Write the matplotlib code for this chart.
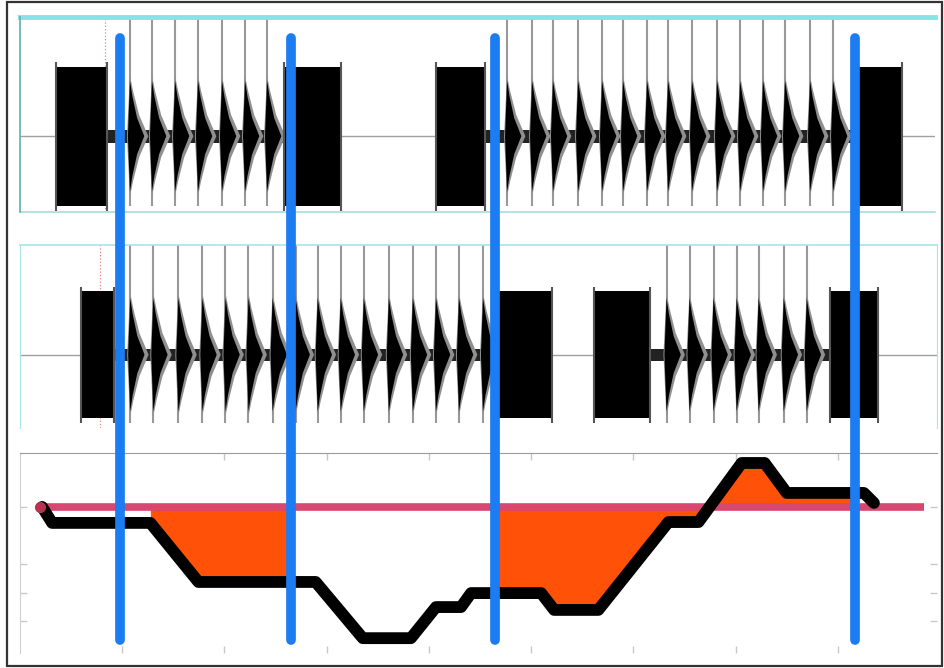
import numpy as np
import matplotlib
matplotlib.use('Agg')
import matplotlib.pyplot as plt
import matplotlib.transforms as mtransforms
from matplotlib.lines import Line2D
from matplotlib.patches import Rectangle

# time in seconds
top_noise = [(-0.657, -0.137), (1.578, 2.157), (3.069, 3.569), (7.186, 7.657)]
top_beats = [0.078, 0.294, 0.520, 0.745, 0.980, 1.206, 1.422,
             3.775, 4.020, 4.225, 4.471, 4.706, 4.912, 5.147, 5.353,
             5.588, 5.833, 6.059, 6.284, 6.500, 6.745, 6.971]
top_marker = -0.167

mid_noise = [(-0.412, -0.069), (3.608, 4.216), (4.608, 5.176), (6.912, 7.402)]
mid_beats = [0.078, 0.304, 0.549, 0.784, 1.010, 1.235, 1.471, 1.696,
             1.912, 2.137, 2.363, 2.608, 2.843, 3.069, 3.294, 3.529,
             5.324, 5.549, 5.784, 6.010, 6.225, 6.471, 6.696]
mid_marker = -0.216

# bottom trace (step-like curve) and reference level
curve_t = [-0.784, -0.686, 0.275, 0.745, 1.892, 2.353, 2.824, 3.069, 3.314,
           3.412, 4.098, 4.225, 4.657, 5.343, 5.637, 6.059, 6.284, 6.500,
           7.255, 7.353]
curve_y = [0.0, -0.56, -0.56, -2.63, -2.63, -4.60, -4.60, -3.51, -3.51,
           -3.02, -3.02, -3.61, -3.61, -0.53, -0.53, 1.54, 1.54, 0.49,
           0.49, 0.14]
ref_t = [-0.804, 7.843]
ref_level = 0.0
fill_spans = [(0.275, 1.647), (3.647, 7.167)]

# blue markers across all panels
markers = [-0.020, 1.647, 3.647, 7.167]

xticks = [0, 1, 2, 3, 4, 5, 6, 7]
yticks = [0, -2, -3, -4]

W, H = 945, 668


def px_box(x0, y0, x1, y1):
    return [x0 / W, 1 - y1 / H, (x1 - x0) / W, (y1 - y0) / H]


fig = plt.figure(figsize=(W / 100, H / 100), dpi=100)
XLIM = (-1.0, 7.97)


def draw_trace(ax, noise, beats, marker, ylim, blob):
    ax.set_xlim(*XLIM)
    ax.set_ylim(*ylim)
    ax.axhline(0, color='#a0a0a0', lw=1.0, zorder=1)
    # thin baseline between blocks where beats are
    edges = sorted(noise)
    for (a0, a1), (b0, b1) in zip(edges[:-1], edges[1:]):
        if any(a1 < t < b0 for t in beats):
            ax.fill_between([a1, b0], -0.09, 0.09, color='#222222', lw=0, zorder=2)
    for a, b in noise:
        ax.fill_between([a, b], -0.98, 0.98, color='black', lw=0, zorder=3)
        ax.vlines([a + 0.01, b - 0.01], -1.05, 1.05, colors='#555555', lw=1.5, zorder=3)
    for t in beats:
        ax.vlines(t, ylim[0] + 0.08, ylim[1], colors='#999999', lw=1.5, zorder=2)
        ax.fill([t - 0.03, t, t + 0.03, t + 0.09, t + 0.18, t + 0.09, t + 0.03, t],
                [0, blob, blob * 0.75, blob * 0.35, 0, -blob * 0.35, -blob * 0.75, -blob],
                color='#8f8f8f', lw=0, zorder=2)
        ax.fill([t - 0.02, t, t + 0.025, t + 0.07, t + 0.14, t + 0.07, t + 0.025, t],
                [0, blob * 0.92, blob * 0.65, blob * 0.3, 0, -blob * 0.3, -blob * 0.65, -blob * 0.92],
                color='black', lw=0, zorder=3)
    ax.axvline(marker, color='#f08080', ls=':', lw=0.9, zorder=1)
    ax.set_xticks([])
    ax.set_yticks([])
    for s in ax.spines.values():
        s.set_visible(False)


# top waveform
ax1 = fig.add_axes(px_box(20, 17, 935, 212))
draw_trace(ax1, top_noise, top_beats, top_marker, (-1.07, 1.68), 0.85)
ax1.axhline(1.68, color='#86e3e6', lw=3.5, zorder=4, clip_on=False)
ax1.axhline(-1.07, color='#a8dcdc', lw=1.2, zorder=4, clip_on=False)
ax1.axvline(XLIM[0], color='#5fb3b3', lw=1.2, zorder=4, clip_on=False)

# middle waveform
ax2 = fig.add_axes(px_box(20, 245, 937, 428))
draw_trace(ax2, mid_noise, mid_beats, mid_marker, (-1.13, 1.69), 0.95)
ax2.axhline(1.69, color='#a6e6ea', lw=1.2, zorder=4, clip_on=False)
ax2.spines['left'].set_visible(True)
ax2.spines['right'].set_visible(True)
ax2.spines['left'].set_color('#a6e6ea')
ax2.spines['right'].set_color('#a6e6ea')

# bottom trace
ax3 = fig.add_axes(px_box(20, 453, 937, 653))
ax3.set_xlim(*XLIM)
ax3.set_ylim(-5.12, 1.89)
ct = np.array(curve_t)
cy = np.array(curve_y)
for a, b in fill_spans:
    xs = np.unique(np.concatenate([[a, b], ct[(ct > a) & (ct < b)]]))
    ys = np.interp(xs, ct, cy)
    ax3.fill_between(xs, ref_level, ys, color='#ff5208', lw=0, zorder=2)
ax3.plot(ref_t, [ref_level, ref_level], color='#d9466f', lw=5.5,
         solid_capstyle='butt', zorder=3)
ax3.plot(ct, cy, color='black', lw=8.5, solid_joinstyle='round',
         solid_capstyle='round', zorder=4)
ax3.plot(ref_t[0], ref_level, 'o', ms=7, color='#b8334f', zorder=5)
ax3.set_xticks(xticks)
ax3.set_yticks(yticks)
ax3.tick_params(direction='in', length=5, width=1, colors='#c8c8c8',
                top=True, right=True, labelbottom=False, labelleft=False)
for side in ['bottom', 'right']:
    ax3.spines[side].set_visible(False)
ax3.spines['top'].set_color('#9a9a9a')
ax3.spines['left'].set_color('#d0d0d0')

# blue vertical markers spanning the three panels
trans = mtransforms.blended_transform_factory(ax3.transData, fig.transFigure)
for t in markers:
    fig.add_artist(Line2D([t, t], [1 - 38 / H, 1 - 640 / H], transform=trans,
                          color='#1c7cf2', lw=7, solid_capstyle='round', zorder=10))

# outer frame
fig.add_artist(Rectangle((7 / W, 2 / H), 935 / W, 664 / H, transform=fig.transFigure,
                         fill=False, edgecolor='#333333', lw=1.6, zorder=11))

fig.savefig('out.png', dpi=100)
